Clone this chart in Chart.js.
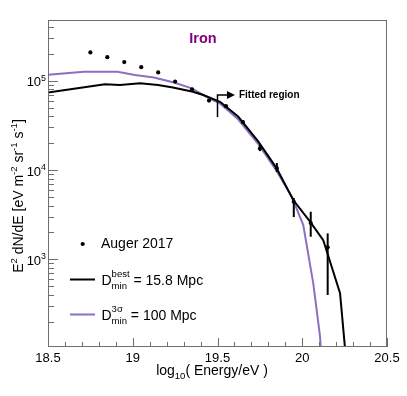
<!DOCTYPE html>
<html><head><meta charset="utf-8">
<script src="https://cdn.jsdelivr.net/npm/chart.js@4.4.0/dist/chart.umd.min.js"></script>
<style>html,body{margin:0;padding:0;background:#fff;overflow:hidden}canvas{display:block}</style>
</head><body>
<canvas id="c" width="407" height="396"></canvas>
<script>
// ---- data ----
const augerLgE  = [18.75,18.85,18.95,19.05,19.15,19.25,19.35,19.45,19.55,19.65,19.75,19.85,19.95,20.05,20.15];
const augerFlux = [2.08e5,1.84e5,1.62e5,1.42e5,1.24e5,9.8e4,8.0e4,6.0e4,5.2e4,3.45e4,1.74e4,1.05e4,4.4e3,2.55e3,1.36e3];
const augerUp   = [2.10e5,1.86e5,1.64e5,1.44e5,1.26e5,9.95e4,8.15e4,6.15e4,5.35e4,3.6e4,1.9e4,1.2e4,4.86e3,3.41e3,1.95e3];
const augerDown = [2.06e5,1.82e5,1.60e5,1.40e5,1.22e5,9.65e4,7.85e4,5.85e4,5.05e4,3.3e4,1.63e4,9.5e3,2.97e3,1.79e3,398];

const bestLgE  = [18.5,18.836,18.925,19.043,19.149,19.237,19.355,19.416,19.515,19.623,19.741,19.849,19.947,20.046,20.124,20.223,20.263];
const bestFlux = [7.38e4,9.12e4,8.96e4,9.36e4,8.96e4,8.43e4,7.53e4,6.92e4,5.82e4,3.95e4,2.08e4,1.045e4,4.61e3,2.64e3,1.64e3,416,60];

const sigLgE  = [18.5,18.712,18.91,19.013,19.125,19.243,19.348,19.446,19.515,19.623,19.741,19.839,19.938,20.006,20.065,20.105,20.117];
const sigFlux = [1.17e5,1.26e5,1.26e5,1.16e5,1.09e5,9.55e4,8.22e4,6.45e4,5.56e4,3.68e4,1.95e4,1.045e4,5.02e3,2.42e3,538,136,60];

const xTickVals   = [18.5,19,19.5,20,20.5];
const xTickLabels = ['18.5','19','19.5','20','20.5'];
const yTickVals   = [1e3,1e4,1e5];
const yTickExps   = ['3','4','5'];

const xRange = [18.5, 20.5];
const yRange = [104, 4.8e5];

const fitStartLgE = 19.5;
const fitArrowLgE = 19.603;
const fitBracketFlux = [6.92e4, 3.92e4];

// ---- styles ----
const FONT = '"Liberation Sans", Arial, Helvetica, sans-serif';
const PURPLE = '#8b6fc0';
const TITLE_PURPLE = '#800080';
const AXIS = '#6e6e6e';

function toPts(xs, ys){ return xs.map((v,i)=>({x:v, y:ys[i]})); }

function richWidth(ctx, parts, size){
  let w = 0;
  for (const p of parts){
    if (p.sup !== undefined || p.sub !== undefined && p.t === undefined){
      ctx.font = (size*0.68)+'px '+FONT;
      w += Math.max(ctx.measureText(p.sup||'').width, ctx.measureText(p.sub||'').width);
    } else {
      ctx.font = (p.s ? size*0.68 : size)+'px '+FONT;
      w += ctx.measureText(p.t).width;
    }
  }
  return w;
}
function drawRich(ctx, parts, x, y, size, align){
  let w = richWidth(ctx, parts, size);
  let cx = align==='center' ? x - w/2 : (align==='right' ? x - w : x);
  ctx.textAlign = 'left'; ctx.textBaseline = 'alphabetic';
  for (const p of parts){
    if (p.t === undefined){
      ctx.font = (size*0.68)+'px '+FONT;
      const w1 = ctx.measureText(p.sup||'').width, w2 = ctx.measureText(p.sub||'').width;
      if (p.sup) ctx.fillText(p.sup, cx, y - size*0.55);
      if (p.sub) ctx.fillText(p.sub, cx, y + size*0.25);
      cx += Math.max(w1,w2);
    } else {
      const fs = p.s ? size*0.68 : size;
      ctx.font = fs+'px '+FONT;
      const dy = p.s==='sup' ? -size*0.42 : (p.s==='sub' ? size*0.28 : 0);
      ctx.fillText(p.t, cx, y + dy);
      cx += ctx.measureText(p.t).width;
    }
  }
}

const decor = {
  id: 'decor',
  afterDatasetsDraw(chart){
    const {ctx, chartArea:a, scales:{x, y}} = chart;
    ctx.save();
    // error bars
    ctx.save();
    ctx.beginPath(); ctx.rect(a.left, a.top, a.right-a.left, a.bottom-a.top); ctx.clip();
    ctx.strokeStyle = '#000'; ctx.lineWidth = 2;
    for (let i=0;i<augerLgE.length;i++){
      const px = x.getPixelForValue(augerLgE[i]);
      ctx.beginPath();
      ctx.moveTo(px, y.getPixelForValue(augerUp[i]));
      ctx.lineTo(px, y.getPixelForValue(augerDown[i]));
      ctx.stroke();
    }
    ctx.restore();

    // frame
    ctx.strokeStyle = AXIS; ctx.lineWidth = 1;
    ctx.strokeRect(Math.round(a.left)+0.5, Math.round(a.top)+0.5, Math.round(a.right-a.left)-1, Math.round(a.bottom-a.top)-1);

    // y ticks (log)
    ctx.beginPath();
    for (let k=1;k<=6;k++){
      for (let m=1;m<=9;m++){
        const v = m*Math.pow(10,k);
        if (v < yRange[0] || v > yRange[1]) continue;
        const py = Math.round(y.getPixelForValue(v))+0.5;
        const len = m===1 ? 10 : 6;
        ctx.moveTo(a.left, py); ctx.lineTo(a.left+len, py);
      }
    }
    // x ticks
    for (let i=0;i<=20;i++){
      const v = xRange[0] + 0.1*i;
      const px = Math.round(x.getPixelForValue(v))+0.5;
      const len = (i%5===0) ? 9 : 5;
      ctx.moveTo(px, a.bottom); ctx.lineTo(px, a.bottom-len);
    }
    ctx.stroke();

    // tick labels
    ctx.fillStyle = '#000';
    ctx.font = '13px '+FONT; ctx.textAlign='center'; ctx.textBaseline='middle';
    xTickVals.forEach((v,i)=>{ ctx.fillText(xTickLabels[i], x.getPixelForValue(v), a.bottom+11); });
    yTickVals.forEach((v,i)=>{
      const py = y.getPixelForValue(v);
      drawRich(ctx, [{t:'10'},{t:yTickExps[i], s:'sup'}], a.left-2, py+5.5, 13, 'right');
    });

    // axis titles
    drawRich(ctx, [{t:'log'},{t:'10', s:'sub'},{t:'( Energy/eV )'}], 212, 375, 14, 'center');
    ctx.save();
    ctx.translate(23, 196); ctx.rotate(-Math.PI/2);
    drawRich(ctx, [{t:'E'},{t:'2',s:'sup'},{t:' dN/dE [eV m'},{t:'-2',s:'sup'},{t:' sr'},{t:'-1',s:'sup'},{t:' s'},{t:'-1',s:'sup'},{t:']'}], 0, 0, 14, 'center');
    ctx.restore();

    // title "Iron"
    ctx.fillStyle = TITLE_PURPLE;
    ctx.font = 'bold 14.5px '+FONT; ctx.textAlign='center'; ctx.textBaseline='middle';
    ctx.fillText('Iron', 203, 38.5);

    // fitted region marker
    const fx = x.getPixelForValue(fitStartLgE);
    const fy0 = y.getPixelForValue(fitBracketFlux[0]);
    const fy1 = y.getPixelForValue(fitBracketFlux[1]);
    const ax = x.getPixelForValue(fitArrowLgE);
    ctx.strokeStyle = '#000'; ctx.lineWidth = 1.5;
    ctx.beginPath(); ctx.moveTo(fx, fy1); ctx.lineTo(fx, fy0); ctx.lineTo(ax-7, fy0); ctx.stroke();
    ctx.fillStyle = '#000';
    ctx.beginPath(); ctx.moveTo(ax-8, fy0-4); ctx.lineTo(ax, fy0); ctx.lineTo(ax-8, fy0+4); ctx.closePath(); ctx.fill();
    ctx.font = 'bold 10px '+FONT; ctx.textAlign='left'; ctx.textBaseline='middle';
    ctx.fillText('Fitted region', ax+4, fy0+0.5);

    // legend
    ctx.fillStyle = '#000';
    ctx.beginPath(); ctx.arc(82.7, 244, 2.1, 0, Math.PI*2); ctx.fill();
    ctx.font = '14px '+FONT; ctx.textAlign='left'; ctx.textBaseline='alphabetic';
    ctx.fillText('Auger 2017', 101, 247.5);

    ctx.lineWidth = 2;
    ctx.strokeStyle = '#000';
    ctx.beginPath(); ctx.moveTo(70, 279.5); ctx.lineTo(95, 279.5); ctx.stroke();
    drawRich(ctx, [{t:'D'},{sup:'best', sub:'min'},{t:' = 15.8 Mpc'}], 101.5, 285, 14, 'left');

    ctx.strokeStyle = PURPLE;
    ctx.beginPath(); ctx.moveTo(70, 314.5); ctx.lineTo(95, 314.5); ctx.stroke();
    ctx.fillStyle = '#000';
    drawRich(ctx, [{t:'D'},{sup:'3\u03c3', sub:'min'},{t:' = 100 Mpc'}], 101.5, 320, 14, 'left');

    ctx.restore();
  }
};

new Chart(document.getElementById('c'), {
  type: 'scatter',
  data: {
    datasets: [
      { label:'Auger 2017', data: toPts(augerLgE, augerFlux), showLine:false,
        pointRadius:2.1, pointBackgroundColor:'#000', pointBorderWidth:0, borderColor:'#000' },
      { label:'best', data: toPts(bestLgE, bestFlux), showLine:true, pointRadius:0,
        borderColor:'#000', borderWidth:2, fill:false, tension:0 },
      { label:'3sigma', data: toPts(sigLgE, sigFlux), showLine:true, pointRadius:0,
        borderColor:PURPLE, borderWidth:2, fill:false, tension:0 }
    ]
  },
  options: {
    responsive:false, animation:false, devicePixelRatio:1,
    layout: { padding: { left:48, right:20, top:20, bottom:49 } },
    plugins: { legend:{display:false}, tooltip:{enabled:false}, title:{display:false} },
    scales: {
      x: { type:'linear', min:xRange[0], max:xRange[1], display:false },
      y: { type:'logarithmic', min:yRange[0], max:yRange[1], display:false }
    }
  },
  plugins: [decor]
});
</script>
</body></html>
